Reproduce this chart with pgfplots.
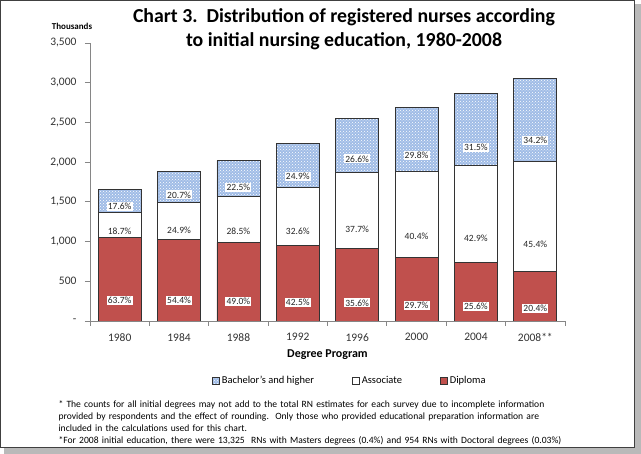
\documentclass[border=0pt]{standalone}
\usepackage{pgfplots}
\pgfplotsset{compat=1.18}
\usepackage{pgfplotstable}
\usepackage{fontspec}
\setmainfont{Carlito}
\usetikzlibrary{patterns}
\definecolor{dipred}{RGB}{192,80,77}
\definecolor{bachblue}{RGB}{160,188,230}
\definecolor{axisgray}{RGB}{134,134,134}

% values in thousands, shares in percent
\pgfplotstableread{
x dip ass bach pdip pass pbach
0 1056 310 292 63.7 18.7 17.6
1 1023 468 389 54.4 24.9 20.7
2 989 575 454 49.0 28.5 22.5
3 951 729 557 42.5 32.6 24.9
4 909 962 679 35.6 37.7 26.6
5 799 1087 802 29.7 40.4 29.8
6 734 1230 903 25.6 42.9 31.5
7 623 1387 1045 20.4 45.4 34.2
}\nurses

\begin{document}
\begin{tikzpicture}
\useasboundingbox (0pt,0pt) rectangle (641pt,-454pt);
% frame with shadow
\fill[gray!55] (4pt,-448pt) rectangle (641pt,-454pt);
\fill[gray!55] (634pt,-4pt) rectangle (641pt,-454pt);
\draw[black!75, line width=1pt] (0.5pt,-0.5pt) rectangle (634pt,-448pt);

\node[font=\fontsize{19.8}{24}\selectfont\bfseries, align=center] at (344pt,-29pt)
  {Chart 3.\ \ Distribution of registered nurses according\\to initial nursing education, 1980-2008};
\node[font=\fontsize{9}{11}\selectfont\bfseries] at (72pt,-26pt) {Thousands};

\begin{axis}[
  at={(90pt,-321pt)}, anchor=south west,
  scale only axis, width=475pt, height=278pt,
  xmin=-0.5, xmax=7.5, ymin=0, ymax=3500,
  ybar stacked, bar width=43pt,
  axis x line*=bottom, axis y line*=left,
  axis line style={axisgray, line width=0.8pt},
  xtick={-0.5,0.5,...,7.5},
  x tick label as interval,
  xticklabels={1980,1984,1988,1992,1996,2000,2004,2008**},
  ytick={0,500,...,3500},
  yticklabels={-,500,{1,000},{1,500},{2,000},{2,500},{3,000},{3,500}},
  tick align=outside, major tick length=5pt,
  tick style={axisgray, line width=0.8pt},
  ticklabel style={font=\fontsize{11.5}{13}\selectfont, text=black!80},
  yticklabel style={xshift=-5pt},
  xticklabel style={yshift=-4pt},
  xlabel={Degree Program},
  xlabel style={font=\fontsize{12}{14}\selectfont\bfseries, at={(0.5,-0.12)}, anchor=center},
  point meta=explicit symbolic,
  nodes near coords={\pgfplotspointmeta\%},
  visualization depends on=rawy\as\rawy,
  every node near coord/.append style={anchor=center,
    shift={(axis direction cs:0,-\rawy/4)},
    fill=white, inner sep=1.2pt, text=black!85,
    font=\fontsize{9.5}{11}\selectfont},
  legend columns=3,
  reverse legend,
  legend style={draw=none, fill=none, at={(0.547,-0.216)}, anchor=center,
    font=\fontsize{10.5}{12}\selectfont,
    /tikz/every even column/.append style={column sep=36pt}},
  legend image code/.code={\draw[#1] (0pt,-3.5pt) rectangle (7pt,3.5pt);},
]
\addplot[fill=dipred, draw=black!80, line width=0.8pt]
  table[x=x, y=dip, meta=pdip] {\nurses};
\addlegendentry{Diploma}
\addplot[fill=white, draw=black!80, line width=0.8pt]
  table[x=x, y=ass, meta=pass] {\nurses};
\addlegendentry{Associate}
\addplot[fill=bachblue, draw=black!80, line width=0.8pt,
  postaction={pattern=crosshatch dots, pattern color=white}]
  table[x=x, y=bach, meta=pbach] {\nurses};
\addlegendentry{Bachelor's and higher}
\end{axis}

\node[anchor=north west, align=left, text width=600pt,
  font=\fontsize{9.6}{12}\selectfont] at (55pt,-397pt)
  {* The counts for all initial degrees may not add to the total RN estimates for each survey due to incomplete information\\
   provided by respondents and the effect of rounding.\ \ Only those who provided educational preparation information are\\
   included in the calculations used for this chart.\\
   *{}*For 2008 initial education, there were 13,325\ \ RNs with Masters degrees (0.4\%) and 954 RNs with Doctoral degrees (0.03\%)};
\end{tikzpicture}
\end{document}
